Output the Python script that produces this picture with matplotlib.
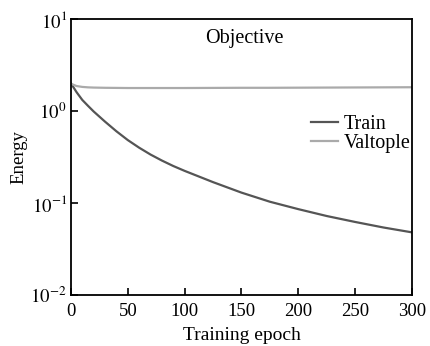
import matplotlib
matplotlib.use("Agg")
import matplotlib.pyplot as plt

plt.rcParams['font.family'] = ['Liberation Serif', 'DejaVu Serif']
plt.rcParams['mathtext.fontset'] = 'stix'

# Data
epochs = [0, 5, 10, 15, 20, 30, 40, 50, 60, 70, 80, 90, 100,
          125, 150, 175, 200, 225, 250, 275, 300]
train = [2.0, 1.60, 1.32, 1.14, 0.989, 0.767, 0.603, 0.484, 0.40, 0.337,
         0.29, 0.253, 0.224, 0.169, 0.130, 0.1035, 0.086, 0.0724, 0.0624,
         0.0543, 0.0481]
valtople = [1.98, 1.87, 1.83, 1.81, 1.80, 1.79, 1.785, 1.78, 1.78, 1.78,
            1.78, 1.78, 1.78, 1.785, 1.79, 1.79, 1.795, 1.80, 1.805, 1.81,
            1.815]

xticks = [0, 50, 100, 150, 200, 250, 300]
yticks = [1e-2, 1e-1, 1e0, 1e1]
yticklabels = [r'$10^{-2}$', r'$10^{-1}$', r'$10^{0}$', r'$10^{1}$']

fig = plt.figure(figsize=(4.3, 3.46), dpi=100)
ax = fig.add_axes([0.165, 0.147, 0.793, 0.798])

ax.plot(epochs, train, color='#555555', lw=1.6, label='Train')
ax.plot(epochs, valtople, color='#aaaaaa', lw=1.6, label='Valtople')

ax.set_yscale('log')
ax.set_xlim(0, 300)
ax.set_ylim(1e-2, 1e1)
ax.set_xticks(xticks)
ax.set_yticks(yticks)
ax.set_yticklabels(yticklabels)
ax.minorticks_off()
ax.tick_params(direction='in', length=5, width=1.2, labelsize=13.5)
ax.tick_params(axis='x', pad=6)
ax.tick_params(axis='y', pad=3)
for s in ax.spines.values():
    s.set_linewidth(1.3)

ax.set_xlabel('Training epoch', fontsize=14, labelpad=5)
ax.set_ylabel('Energy', fontsize=13.5, labelpad=2)
ax.text(0.51, 0.93, 'Objective', transform=ax.transAxes, ha='center',
        va='center', fontsize=14.5)

ax.legend(loc='center right', bbox_to_anchor=(0.997, 0.585), frameon=False,
          fontsize=14.5, handlelength=1.35, handletextpad=0.3,
          labelspacing=0.0, borderpad=0.0, borderaxespad=0.0)

fig.savefig('out.png', dpi=100)
